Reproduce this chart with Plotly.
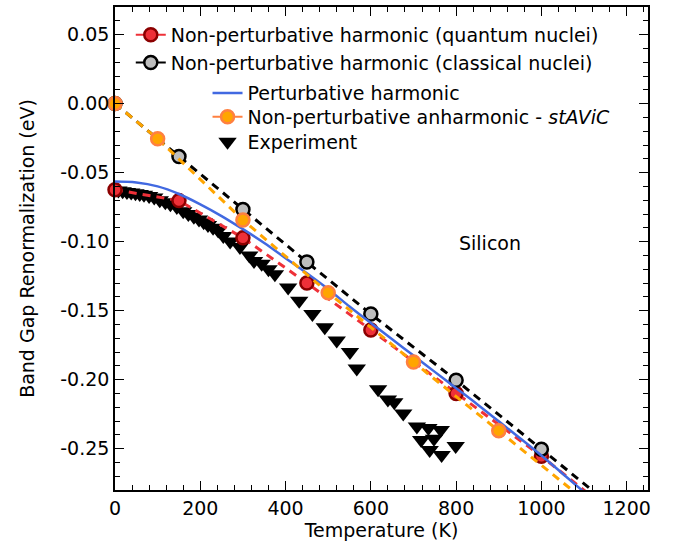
import plotly.graph_objects as go

# ---------------- data ----------------
T_quantum = [0, 150, 300, 450, 600, 800, 1000]
E_quantum = [-0.0624, -0.0703, -0.0973, -0.1300, -0.1640, -0.2100, -0.2555]
T_classical = [0, 150, 300, 450, 600, 800, 1000]
E_classical = [0.0, -0.0384, -0.0767, -0.1148, -0.1525, -0.2005, -0.2504]
T_anharm = [0, 100, 300, 500, 700, 900]
E_anharm = [0.0, -0.0255, -0.0843, -0.1370, -0.1873, -0.2370]

# dashed guide lines continue past the last point (read at T = 1150 K)
T_tail = 1150
E_quantum_tail = -0.2925
E_classical_tail = -0.2880
E_anharm_tail = -0.2995

T_pert = [0, 50, 100, 150, 200, 250, 300, 350, 400, 450, 500, 550, 600, 650,
          700, 750, 800, 850, 900, 950, 1000, 1050, 1100, 1150]
E_pert = [-0.0565, -0.0572, -0.0600, -0.0655, -0.0730, -0.0815, -0.0910,
          -0.1010, -0.1120, -0.1230, -0.1345, -0.1470, -0.1590, -0.1708,
          -0.1826, -0.1944, -0.2062, -0.2180, -0.2302, -0.2425, -0.2550,
          -0.2682, -0.2815, -0.2948]

T_exp = [8, 18, 28, 38, 48, 58, 68, 80, 92, 105, 118, 130, 145, 160, 172, 185,
         197, 208, 218, 230, 242, 254, 270, 293, 315, 326, 344, 360, 375, 406,
         432, 463, 492, 520, 551, 567, 617, 640, 655, 676, 708, 735, 764, 718,
         748, 738, 766, 799]
E_exp = [-0.0630, -0.0635, -0.0640, -0.0645, -0.0650, -0.0655, -0.0660,
         -0.0670, -0.0680, -0.0700, -0.0715, -0.0730, -0.0750, -0.0780,
         -0.0800, -0.0820, -0.0840, -0.0860, -0.0880, -0.0900, -0.0920,
         -0.0960, -0.1000, -0.1040, -0.1100, -0.1140, -0.1160, -0.1200,
         -0.1237, -0.1333, -0.1429, -0.1525, -0.1620, -0.1717, -0.1800,
         -0.1920, -0.2070, -0.2145, -0.2165, -0.2245, -0.2340, -0.2350,
         -0.2366, -0.2438, -0.2428, -0.2510, -0.2546, -0.2482]

x_ticks = [0, 200, 400, 600, 800, 1000, 1200]
y_ticks = [-0.25, -0.20, -0.15, -0.10, -0.05, 0.00, 0.05]
y_ticktext = ["-0.25", "-0.20", "-0.15", "-0.10", "-0.05", "0.00", "0.05"]

label_quantum = "Non-perturbative harmonic (quantum nuclei)"
label_classical = "Non-perturbative harmonic (classical nuclei)"
label_pert = "Perturbative harmonic"
label_anharm = "Non-perturbative anharmonic - <i>stAViC</i>"
label_exp = "Experiment"
annotation_text = "Silicon"

# ---------------- styles ----------------
FONT = "DejaVu Sans"
FS = 19
RED = "#ee3038"
DARKRED = "#8b0000"
GRAY = "#bebebe"
ORANGE = "#ffa500"
CORAL = "#ff8040"
BLUE = "#4169e1"
DASH = "8px,6px"


def isolated(vals):
    """Interleave gaps so a lines+markers trace draws only its markers
    (the legend still shows the line handle)."""
    out = []
    for v in vals:
        out += [v, None]
    return out


fig = go.Figure()

# experiment (drawn first, below everything)
fig.add_trace(go.Scatter(
    x=T_exp, y=E_exp, mode="markers", name=label_exp,
    marker=dict(symbol="triangle-down", size=16, color="black",
                line=dict(width=0)),
    legend="legend4", cliponaxis=False))

# quantum nuclei
fig.add_trace(go.Scatter(
    x=T_quantum + [T_tail], y=E_quantum + [E_quantum_tail], mode="lines",
    line=dict(color=RED, width=3, dash=DASH), showlegend=False,
    hoverinfo="skip"))
fig.add_trace(go.Scatter(
    x=isolated(T_quantum), y=isolated(E_quantum), mode="lines+markers",
    name=label_quantum, connectgaps=False,
    line=dict(color=RED, width=2),
    marker=dict(symbol="circle", size=13, color=RED,
                line=dict(color=DARKRED, width=2.5)),
    legend="legend", cliponaxis=False))

# classical nuclei
fig.add_trace(go.Scatter(
    x=T_classical + [T_tail], y=E_classical + [E_classical_tail], mode="lines",
    line=dict(color="black", width=3, dash=DASH), showlegend=False,
    hoverinfo="skip"))
fig.add_trace(go.Scatter(
    x=isolated(T_classical), y=isolated(E_classical), mode="lines+markers",
    name=label_classical, connectgaps=False,
    line=dict(color="black", width=2),
    marker=dict(symbol="circle", size=13, color=GRAY,
                line=dict(color="black", width=2.5)),
    legend="legend", cliponaxis=False))

# perturbative harmonic
fig.add_trace(go.Scatter(
    x=T_pert, y=E_pert, mode="lines", name=label_pert,
    line=dict(color=BLUE, width=2.5, shape="spline"),
    legend="legend2"))

# anharmonic
fig.add_trace(go.Scatter(
    x=T_anharm + [T_tail], y=E_anharm + [E_anharm_tail], mode="lines",
    line=dict(color=ORANGE, width=3, dash=DASH), showlegend=False,
    hoverinfo="skip"))
fig.add_trace(go.Scatter(
    x=isolated(T_anharm), y=isolated(E_anharm), mode="lines+markers",
    name=label_anharm, connectgaps=False,
    line=dict(color=CORAL, width=2),
    marker=dict(symbol="circle", size=13, color=ORANGE,
                line=dict(color=CORAL, width=2.5)),
    legend="legend3", cliponaxis=False))

fig.add_annotation(x=880, y=-0.101, text=annotation_text, showarrow=False,
                   font=dict(family=FONT, size=FS, color="black"),
                   xref="x", yref="y")

axis_common = dict(
    showgrid=False, zeroline=False, showline=True, linecolor="black",
    linewidth=1.6, mirror="ticks", ticks="inside", ticklen=9, tickwidth=1.3,
    tickcolor="black", tickfont=dict(family=FONT, size=FS, color="black"),
)

legend_common = dict(xanchor="left", yanchor="top",
                     bgcolor="rgba(255,255,255,0)", borderwidth=0,
                     font=dict(family=FONT, size=FS), tracegroupgap=0)

fig.update_layout(
    width=683, height=548,
    margin=dict(l=115, r=35, t=5, b=58),
    paper_bgcolor="white", plot_bgcolor="white",
    font=dict(family=FONT, size=FS, color="black"),
    xaxis=dict(range=[0, 1250], tickvals=x_ticks,
               title=dict(text="Temperature (K)", standoff=6,
                          font=dict(family=FONT, size=FS)),
               minor=dict(ticks="inside", dtick=40, tick0=0, ticklen=5,
                          tickwidth=1.2, tickcolor="black"),
               **axis_common),
    yaxis=dict(range=[-0.28, 0.07], tickvals=y_ticks, ticktext=y_ticktext,
               title=dict(text="Band Gap Renormalization (eV)", standoff=21,
                          font=dict(family=FONT, size=FS)),
               minor=dict(ticks="inside", dtick=0.01, tick0=0, ticklen=5,
                          tickwidth=1.2, tickcolor="black"),
               **axis_common),
    legend=dict(x=0.0296, y=0.9814, **legend_common),
    legend2=dict(x=0.1736, y=0.8612, **legend_common),
    legend3=dict(x=0.1736, y=0.8118, **legend_common),
    legend4=dict(x=0.1736, y=0.7602, **legend_common),
    showlegend=True,
)

fig.write_html("out.html")
